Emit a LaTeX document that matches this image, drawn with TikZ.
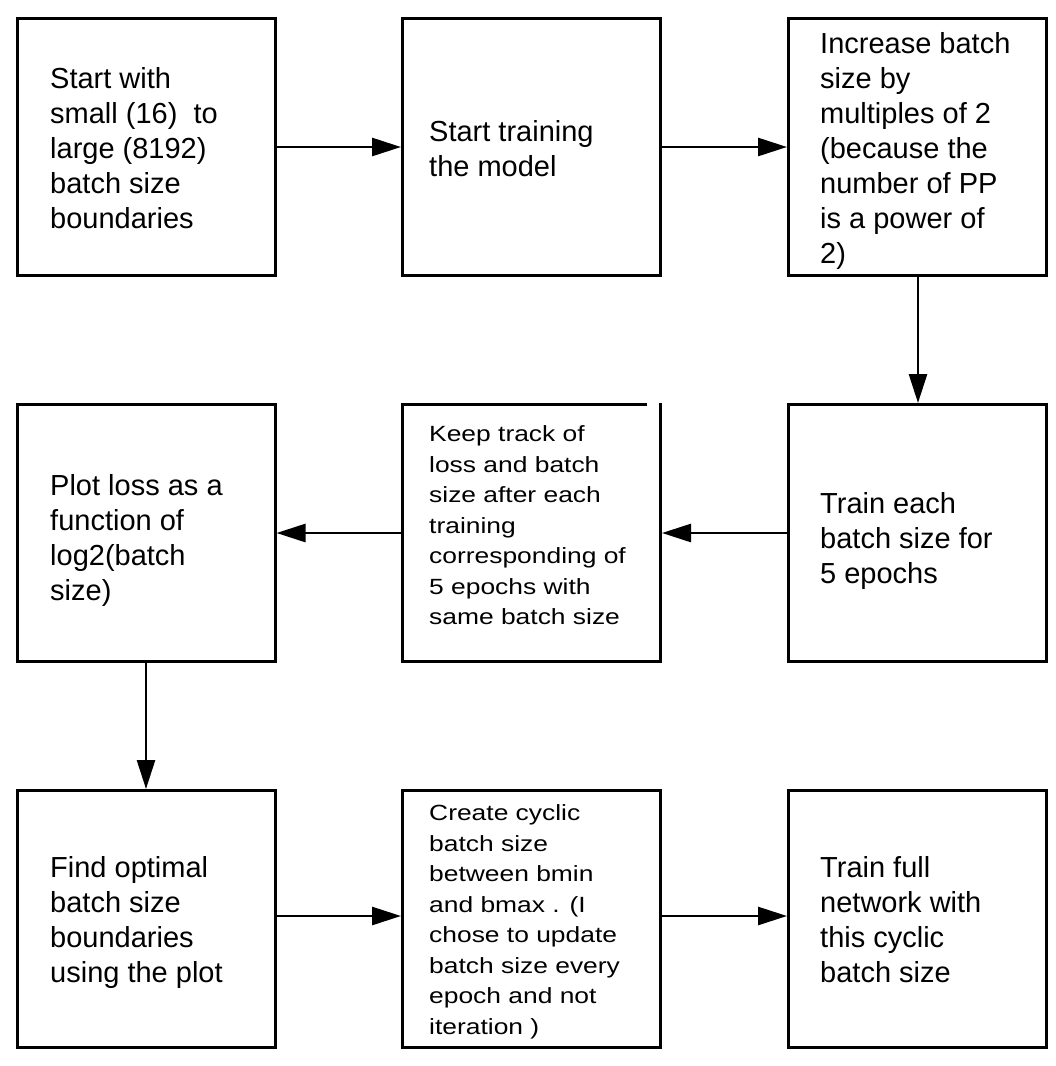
\documentclass[tikz,border=0pt]{standalone}
\usepackage{fontspec}
\setmainfont{Liberation Sans}
\newfontfamily\stretchfont[FakeStretch=1.2]{Liberation Sans}
\usetikzlibrary{arrows.meta}
\newcommand\txtbig{\fontsize{29}{35}\selectfont}
\newcommand\txtsmall{\stretchfont\fontsize{22}{30.5}\selectfont}
\newcommand\lines[1]{\begin{tabular}[t]{@{}l@{}}#1\end{tabular}}
\tikzset{
  box/.style={draw, line width=3pt, minimum width=258pt, minimum height=257pt, inner sep=0pt},
  arr/.style={line width=2.7pt, -{Triangle[length=29pt,width=18pt]}},
  bigtxt/.style={anchor=base west, inner sep=0pt, font=\txtbig},
  smalltxt/.style={anchor=base west, inner sep=0pt, font=\txtsmall}
}
\begin{document}
\begin{tikzpicture}[x=1pt,y=-1pt]
\useasboundingbox[fill=white] (0,0) rectangle (1056,1066);
% boxes
\node[box] (b1) at (146,146.5) {};
\node[box] (b2) at (531.5,146.5) {};
\node[box] (b3) at (917.5,146.5) {};
\node[box] (b4) at (146,533) {};
\node[box] (b5) at (531.5,533) {};
\node[box] (b6) at (917.5,533) {};
\node[box] (b7) at (146,919) {};
\node[box] (b8) at (531.5,919) {};
\node[box] (b9) at (917.5,919) {};
% gap in top border of b5
\fill[white] (647,400) rectangle (659,409);
% texts
\node[bigtxt] (t1) at (50,88) {\lines{Start with\\small (16)~ to\\large (8192)\\batch size\\boundaries}};
\node[bigtxt] (t2) at (429,141) {\lines{Start training\\the model}};
\node[bigtxt] (t3) at (820,53) {\lines{Increase batch\\size by\\multiples of 2\\(because the\\number of PP\\is a power of\\2)}};
\node[bigtxt] (t4) at (50,495) {\lines{Plot loss as a\\function of\\log2(batch\\size)}};
\node[smalltxt] (t5) at (429,441.7) {\lines{Keep track of\\loss and batch\\size after each\\training\\corresponding of\\5 epochs with\\same batch size}};
\node[bigtxt] (t6) at (820,513) {\lines{Train each\\batch size for\\5 epochs}};
\node[bigtxt] (t7) at (50,877) {\lines{Find optimal\\batch size\\boundaries\\using the plot}};
\node[smalltxt] (t8) at (429,820.7) {\lines{Create cyclic\\batch size\\between bmin\\and bmax . (I\\chose to update\\batch size every\\epoch and not\\iteration )}};
\node[bigtxt] (t9) at (820,877) {\lines{Train full\\network with\\this cyclic\\batch size}};
% connectors
\draw[arr] (b1.east |- 0,147) -- (b2.west |- 0,147);
\draw[arr] (b2.east |- 0,147) -- (b3.west |- 0,147);
\draw[arr] (b3.south -| 918,0) -- (b6.north -| 918,0);
\draw[arr] (b6.west |- 0,533) -- (b5.east |- 0,533);
\draw[arr] (b5.west |- 0,533) -- (b4.east |- 0,533);
\draw[arr] (b4.south -| 146,0) -- (b7.north -| 146,0);
\draw[arr] (b7.east |- 0,916) -- (b8.west |- 0,916);
\draw[arr] (b8.east |- 0,916) -- (b9.west |- 0,916);
\end{tikzpicture}
\end{document}
